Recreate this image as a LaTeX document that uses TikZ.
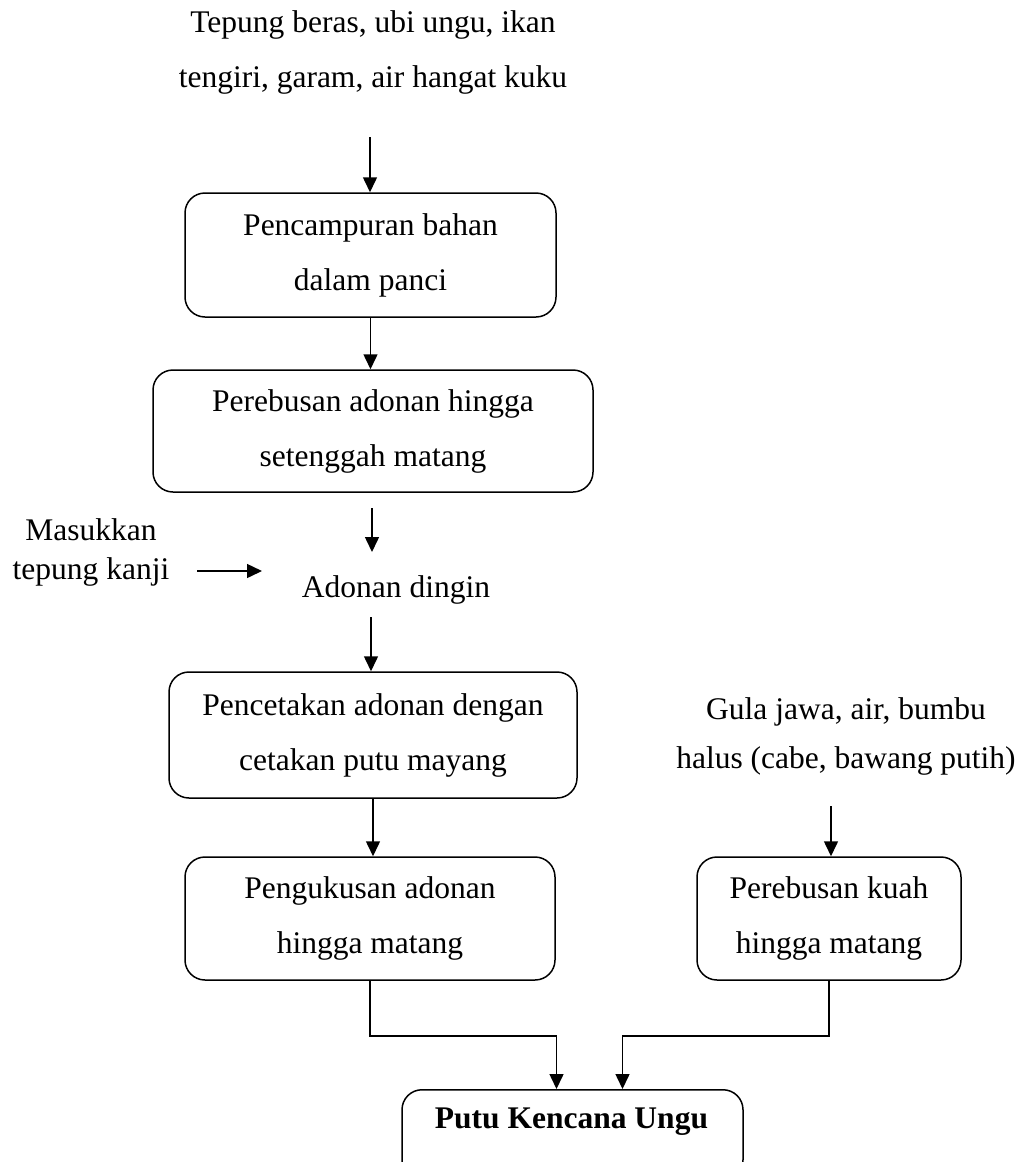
\documentclass[tikz,border=0pt]{standalone}
\usepackage{fontspec}
\setmainfont{Liberation Serif}
\usetikzlibrary{arrows.meta}
\begin{document}
\begin{tikzpicture}[x=1pt,y=-1pt,
  arr/.style={line width=1.5pt, -{Triangle[length=15pt,width=14pt]}},
  box/.style={draw, line width=1.5pt, rounded corners=20pt, align=center, inner sep=0pt, font=\fontsize{31.5}{55}\selectfont},
  txt/.style={align=center, inner sep=0pt, font=\fontsize{31.5}{55}\selectfont}]
\useasboundingbox[fill=white] (0,0) rectangle (1021,1162);

\node[txt] (top) at (373,52) {Tepung beras, ubi ungu, ikan\\tengiri, garam, air hangat kuku};
\node[box, minimum width=371pt, minimum height=124pt] (b1) at (370.5,255) {Pencampuran bahan\\dalam panci};
\node[box, minimum width=440pt, minimum height=122pt] (b2) at (373,431) {Perebusan adonan hingga\\setenggah matang};
\node[txt] (adonan) at (396,590) {Adonan dingin};
\node[txt, font=\fontsize{31.5}{39}\selectfont] (masuk) at (91,552) {Masukkan\\tepung kanji};
\node[box, minimum width=408pt, minimum height=126pt] (b3) at (373,735) {Pencetakan adonan dengan\\cetakan putu mayang};
\node[box, minimum width=370pt, minimum height=123pt] (b4) at (370,918.5) {Pengukusan adonan\\hingga matang};
\node[txt, font=\fontsize{31.5}{49}\selectfont] (gula) at (846,736) {Gula jawa, air, bumbu\\halus (cabe, bawang putih)};
\node[box, minimum width=264pt, minimum height=123pt] (b5) at (829,918.5) {Perebusan kuah\\hingga matang};
\node[draw, line width=1.5pt, rounded corners=20pt, minimum width=341pt, minimum height=90pt, anchor=north] (fin) at (572.5,1089) {};
\node[txt, font=\fontsize{31.5}{55}\selectfont\bfseries] (fintext) at (571.5,1122) {Putu Kencana Ungu};

\coordinate (s0) at (370,137);
\draw[arr] (s0) -- (s0 |- b1.north);
\draw[arr] (b1.south) -- (b1.south |- b2.north);
\coordinate (s1) at (372,508);
\coordinate (e1) at (372,552);
\draw[arr] (s1) -- (e1);
\coordinate (m1) at (197,571);
\coordinate (m2) at (262,571);
\draw[arr] (m1) -- (m2);
\coordinate (s2) at (371,617);
\draw[arr] (s2) -- (s2 |- b3.north);
\draw[arr] (b3.south) -- (b3.south |- b4.north);
\coordinate (s3) at (831,806);
\draw[arr] (s3) -- (s3 |- b5.north);
\draw[arr] (b4.south) -- ++(0,55) -| ([xshift=-16pt]fin.north);
\draw[arr] (b5.south) -- ++(0,55) -| ([xshift=50pt]fin.north);
\end{tikzpicture}
\end{document}
